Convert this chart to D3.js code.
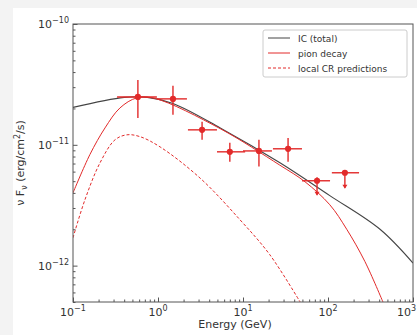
<!DOCTYPE html>
<html>
<head>
<meta charset="utf-8">
<script src="https://cdn.jsdelivr.net/npm/d3@7"></script>
<style>
  html, body { margin: 0; padding: 0; background: #f3f3f3; }
  svg { display: block; font-family: "DejaVu Sans", sans-serif; }
</style>
</head>
<body>
<div id="chart"></div>
<script>
// energies in GeV, fluxes in erg/cm^2/s
const icE    = [0.1, 0.4, 0.75, 1.5, 5.4, 27.2, 105, 409, 1000];
const icF    = [2.04e-11, 2.47e-11, 2.47e-11, 2.2e-11, 1.38e-11, 7.1e-12, 3.8e-12, 2.0e-12, 1.05e-12];

const pionE  = [0.1, 0.158, 0.238, 0.357, 0.566, 0.92, 5.4, 27, 53.7, 105, 166, 272, 443];
const pionF  = [4.0e-12, 8.3e-12, 1.38e-11, 2.02e-11, 2.45e-11, 2.42e-11, 1.36e-11, 6.8e-12, 4.94e-12, 3.19e-12, 2.0e-12, 1.08e-12, 5.0e-13];

const localE = [0.1, 0.138, 0.208, 0.312, 0.43, 0.61, 1.06, 3.13, 9.2, 20.7, 47];
const localF = [1.7e-12, 3.5e-12, 7.1e-12, 1.1e-11, 1.21e-11, 1.17e-11, 9.6e-12, 5.3e-12, 2.4e-12, 1.23e-12, 5.0e-13];

// data points: centre, x range, y range; uplim marks the last two
const ptE    = [0.58, 1.5, 3.3, 7.0, 15.4, 33.9, 74.3, 158];
const ptElo  = [0.33, 0.97, 2.25, 4.94, 10, 22.5, 49.4, 111];
const ptEhi  = [0.97, 2.19, 4.94, 10.6, 21.9, 49.4, 105.7, 232];
const ptF    = [2.49e-11, 2.40e-11, 1.33e-11, 8.75e-12, 8.9e-12, 9.27e-12, 5.04e-12, 5.87e-12];
const ptFlo  = [1.67e-11, 1.77e-11, 1.1e-11, 7.24e-12, 6.6e-12, 7.24e-12, 3.86e-12, 4.42e-12];
const ptFhi  = [3.44e-11, 3.08e-11, 1.55e-11, 1.04e-11, 1.1e-11, 1.14e-11, 5.4e-12, 6.1e-12];
const ptUL   = [false, false, false, false, false, false, true, true];

const xTicks = [-1, 0, 1, 2, 3];
const yTicks = [-12, -11, -10];
const legendLabels = ["IC (total)", "pion decay", "local CR predictions"];

const W = 417, H = 335;
const mLeft = 73, mRight = 413, mTop = 24, mBottom = 302;
const red = "#e22a2a";

const svg = d3.select("#chart").append("svg").attr("width", W).attr("height", H);
svg.append("rect").attr("x", 13).attr("y", 8).attr("width", W - 13).attr("height", H - 8).attr("fill", "#fff");

const x = d3.scaleLog().domain([0.1, 1000]).range([mLeft, mRight]);
const y = d3.scaleLog().domain([5e-13, 1e-10]).range([mBottom, mTop]);

svg.append("clipPath").attr("id", "clip").append("rect")
  .attr("x", mLeft).attr("y", mTop).attr("width", mRight - mLeft).attr("height", mBottom - mTop);

const plot = svg.append("g").attr("clip-path", "url(#clip)");

const line = d3.line().x(d => x(d[0])).y(d => y(d[1])).curve(d3.curveCatmullRom.alpha(0.5));

plot.append("path").datum(d3.zip(icE, icF)).attr("d", line)
  .attr("fill", "none").attr("stroke", "#444").attr("stroke-width", 1.1);
plot.append("path").datum(d3.zip(pionE, pionF)).attr("d", line)
  .attr("fill", "none").attr("stroke", red).attr("stroke-width", 1);
plot.append("path").datum(d3.zip(localE, localF)).attr("d", line)
  .attr("fill", "none").attr("stroke", red).attr("stroke-width", 1).attr("stroke-dasharray", "3,2");

// error bars
const pts = ptE.map((e, i) => ({e, elo: ptElo[i], ehi: ptEhi[i], f: ptF[i], flo: ptFlo[i], fhi: ptFhi[i], ul: ptUL[i]}));
const pg = plot.append("g");
pg.selectAll(".hbar").data(pts).enter().append("line")
  .attr("x1", d => x(d.elo)).attr("x2", d => x(d.ehi))
  .attr("y1", d => y(d.f)).attr("y2", d => y(d.f))
  .attr("stroke", red).attr("stroke-width", 1.4);
pg.selectAll(".vbar").data(pts).enter().append("line")
  .attr("x1", d => x(d.e)).attr("x2", d => x(d.e))
  .attr("y1", d => y(d.fhi)).attr("y2", d => y(d.flo))
  .attr("stroke", red).attr("stroke-width", 1.4);
pg.selectAll(".arrow").data(pts.filter(d => d.ul)).enter().append("path")
  .attr("d", d => {
    const cx = x(d.e), cy = y(d.flo);
    return `M${cx - 2.5},${cy - 3}L${cx + 2.5},${cy - 3}L${cx},${cy + 1}Z`;
  })
  .attr("fill", red);
pg.selectAll(".dot").data(pts).enter().append("circle")
  .attr("cx", d => x(d.e)).attr("cy", d => y(d.f)).attr("r", 3.1)
  .attr("fill", red);

// axes
const axisColor = "#555";
svg.append("rect").attr("x", mLeft).attr("y", mTop)
  .attr("width", mRight - mLeft).attr("height", mBottom - mTop)
  .attr("fill", "none").attr("stroke", axisColor).attr("stroke-width", 1);

const xMinor = [], yMinor = [];
for (let p = -1; p < 3; p++) for (let k = 2; k < 10; k++) xMinor.push(k * Math.pow(10, p));
for (let p = -13; p < -10; p++) for (let k = 2; k < 10; k++) {
  const v = k * Math.pow(10, p);
  if (v >= 5e-13 && v <= 1e-10) yMinor.push(v);
}

function styleAxis(g) {
  g.select(".domain").remove();
  g.selectAll("line").attr("stroke", axisColor);
}

svg.append("g").attr("transform", `translate(0,${mBottom})`)
  .call(d3.axisBottom(x).tickValues(xTicks.map(p => Math.pow(10, p))).tickSize(-4.5).tickFormat(""))
  .call(styleAxis);
svg.append("g").attr("transform", `translate(0,${mBottom})`)
  .call(d3.axisBottom(x).tickValues(xMinor).tickSize(-2.5).tickFormat(""))
  .call(styleAxis);
svg.append("g").attr("transform", `translate(${mLeft},0)`)
  .call(d3.axisLeft(y).tickValues(yTicks.map(p => Math.pow(10, p))).tickSize(-4.5).tickFormat(""))
  .call(styleAxis);
svg.append("g").attr("transform", `translate(${mLeft},0)`)
  .call(d3.axisLeft(y).tickValues(yMinor).tickSize(-2.5).tickFormat(""))
  .call(styleAxis);

// tick labels with superscripts
function powLabel(sel, p) {
  sel.append("tspan").text("10");
  sel.append("tspan").attr("dy", -5).attr("font-size", 8).text(p < 0 ? "\u2212" + (-p) : p);
}
xTicks.forEach(p => {
  const last = p === xTicks[xTicks.length - 1];
  const t = svg.append("text")
    .attr("x", last ? W - 1 : x(Math.pow(10, p)))
    .attr("y", mBottom + 14)
    .attr("text-anchor", last ? "end" : "middle").attr("font-size", 11).attr("fill", "#333");
  powLabel(t, p);
});
yTicks.forEach(p => {
  const t = svg.append("text").attr("x", mLeft - 4).attr("y", y(Math.pow(10, p)) + 4)
    .attr("text-anchor", "end").attr("font-size", 11).attr("fill", "#333");
  powLabel(t, p);
});

// axis titles
svg.append("text").attr("x", 235).attr("y", 328).attr("text-anchor", "middle")
  .attr("font-size", 11).attr("fill", "#333").text("Energy (GeV)");
const yl = svg.append("text").attr("transform", `translate(24,${(mTop + mBottom) / 2}) rotate(-90)`)
  .attr("text-anchor", "middle").attr("font-size", 11).attr("fill", "#333");
yl.append("tspan").text("\u03bd F");
yl.append("tspan").attr("dy", 3).attr("font-size", 8).text("\u03bd");
yl.append("tspan").attr("dy", -3).text(" (erg/cm");
yl.append("tspan").attr("dy", -4).attr("font-size", 8).text("2");
yl.append("tspan").attr("dy", 4).text("/s)");

// legend
const lg = svg.append("g").attr("transform", "translate(263,30)");
lg.append("rect").attr("width", 144).attr("height", 47).attr("rx", 2)
  .attr("fill", "#fff").attr("stroke", "#ccc").attr("stroke-width", 1);
const lstyles = [{c: "#444", d: null}, {c: red, d: null}, {c: red, d: "3,2"}];
legendLabels.forEach((lab, i) => {
  const yy = 8 + i * 15;
  lg.append("line").attr("x1", 5).attr("x2", 27).attr("y1", yy).attr("y2", yy)
    .attr("stroke", lstyles[i].c).attr("stroke-width", 1)
    .attr("stroke-dasharray", lstyles[i].d);
  lg.append("text").attr("x", 35).attr("y", yy + 3.5).attr("font-size", 9).attr("fill", "#333").text(lab);
});
</script>
</body>
</html>
